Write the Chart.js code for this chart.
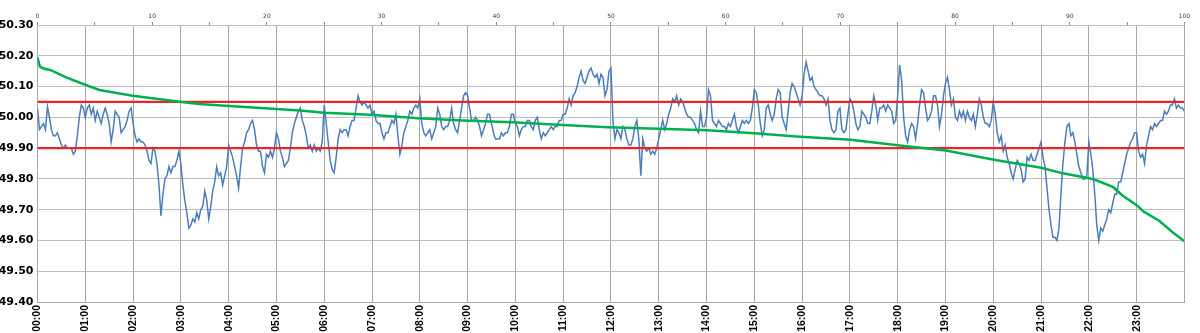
<!DOCTYPE html>
<html>
<head>
<meta charset="utf-8">
<script src="https://cdn.jsdelivr.net/npm/chart.js@4.4.0/dist/chart.umd.min.js"></script>
<style>
  html, body { margin: 0; padding: 0; background: #fff; }
  #wrap { width: 1200px; height: 333px; }
</style>
</head>
<body>
<div id="wrap"><canvas id="chart" width="1200" height="333"></canvas></div>
<script>
// Beschriftung der unteren Achse (Stunden)
const hourLabels = ['00:00','01:00','02:00','03:00','04:00','05:00','06:00','07:00','08:00','09:00','10:00','11:00',
                    '12:00','13:00','14:00','15:00','16:00','17:00','18:00','19:00','20:00','21:00','22:00','23:00'];
const stepMinutes = 2.5;

// Netzfrequenz in Hz, alle 2,5 Minuten (24 Werte pro Stunde)
const frequency = [
  50.03,49.96,49.97,49.98,49.96,50.035,50.00,49.96,49.94,49.94,49.95,49.93,49.91,49.90,49.91,49.90,49.90,49.90,49.88,49.89,49.94,50.00,50.04,50.03,
  50.00,50.03,50.04,50.01,50.03,49.99,50.02,50.00,49.98,50.01,50.03,50.01,49.98,49.92,49.96,50.02,50.01,50.00,49.95,49.96,49.97,49.99,50.02,50.03,
  49.98,49.94,49.92,49.93,49.92,49.92,49.91,49.89,49.86,49.85,49.90,49.89,49.85,49.78,49.68,49.75,49.80,49.81,49.84,49.82,49.84,49.84,49.86,49.89,
  49.85,49.78,49.73,49.69,49.64,49.65,49.67,49.66,49.69,49.67,49.70,49.71,49.76,49.73,49.67,49.71,49.76,49.79,49.84,49.81,49.82,49.78,49.81,49.84,
  49.91,49.89,49.87,49.84,49.81,49.77,49.84,49.90,49.92,49.95,49.96,49.98,49.99,49.96,49.91,49.89,49.89,49.84,49.82,49.88,49.87,49.89,49.87,49.90,
  49.95,49.93,49.89,49.87,49.84,49.85,49.86,49.90,49.95,49.98,50.00,50.02,50.03,49.99,49.97,49.94,49.90,49.91,49.89,49.91,49.89,49.90,49.89,49.92,
  50.04,49.98,49.92,49.86,49.83,49.82,49.87,49.93,49.96,49.95,49.96,49.96,49.94,49.97,49.99,49.99,50.03,50.07,50.05,50.04,50.05,50.04,50.03,50.04,
  50.01,50.02,49.99,49.98,49.98,49.95,49.93,49.95,49.95,49.97,49.99,49.98,50.01,49.94,49.88,49.91,49.95,49.97,49.99,50.02,50.01,50.03,50.04,50.03,
  50.06,49.98,49.95,49.94,49.95,49.96,49.93,49.95,49.97,50.03,50.01,49.97,49.96,49.97,49.97,49.99,50.03,49.98,49.96,49.95,49.99,50.03,50.07,50.08,
  50.07,50.03,49.99,49.99,50.00,49.99,49.97,49.94,49.96,49.98,50.01,50.01,49.98,49.95,49.93,49.93,49.93,49.95,49.94,49.95,49.95,49.97,50.01,50.01,
  49.98,49.97,49.94,49.96,49.97,49.97,49.99,49.99,49.97,49.96,49.99,50.00,49.96,49.93,49.95,49.94,49.95,49.96,49.97,49.96,49.97,49.97,49.99,49.99,
  50.01,50.01,50.03,50.06,50.04,50.07,50.08,50.10,50.13,50.15,50.12,50.11,50.13,50.15,50.16,50.14,50.13,50.14,50.11,50.14,50.13,50.07,50.09,50.15,
  50.16,49.99,49.93,49.96,49.95,49.93,49.97,49.96,49.93,49.91,49.91,49.93,49.97,49.99,49.93,49.81,49.93,49.90,49.89,49.90,49.88,49.89,49.88,49.90,
  49.93,49.96,49.99,49.96,49.98,50.01,50.03,50.06,50.05,50.07,50.04,50.06,50.05,50.03,50.01,50.00,50.00,49.99,49.98,49.96,49.95,50.02,49.97,49.97,
  50.00,50.09,50.07,49.99,49.98,49.97,49.99,49.98,49.97,49.97,49.96,49.98,49.97,49.99,50.01,49.97,49.95,49.97,49.99,49.98,49.99,49.98,49.99,50.03,
  50.09,50.08,50.04,49.98,49.94,49.96,50.03,50.04,50.01,49.99,50.01,50.06,50.09,50.08,50.00,49.98,49.96,50.02,50.08,50.11,50.10,50.08,50.06,50.04,
  50.07,50.14,50.18,50.15,50.12,50.13,50.10,50.09,50.08,50.07,50.07,50.06,50.04,50.06,49.99,49.96,49.95,49.96,50.02,50.03,49.96,49.95,49.96,50.01,
  50.06,50.05,50.02,49.98,49.96,49.97,50.02,50.01,50.00,49.98,49.98,50.02,50.07,50.04,49.99,50.03,50.03,50.04,50.02,50.04,50.03,50.02,49.98,49.99,
  50.07,50.17,50.12,50.00,49.94,49.92,49.96,49.98,49.97,49.93,49.98,50.04,50.09,50.08,50.03,49.99,50.00,50.02,50.07,50.07,50.04,49.97,50.01,50.07,
  50.11,50.13,50.09,50.04,50.06,50.00,49.99,50.02,50.00,50.02,49.99,50.02,50.00,49.99,50.01,49.97,50.01,50.06,50.04,50.00,49.98,49.98,49.97,49.99,
  50.05,50.01,49.95,49.92,49.94,49.89,49.91,49.87,49.85,49.82,49.80,49.83,49.86,49.85,49.83,49.79,49.80,49.87,49.86,49.88,49.86,49.86,49.88,49.90,
  49.92,49.87,49.84,49.77,49.70,49.65,49.61,49.61,49.60,49.64,49.75,49.85,49.92,49.97,49.98,49.94,49.95,49.92,49.88,49.84,49.82,49.80,49.80,49.81,
  49.92,49.88,49.83,49.75,49.65,49.60,49.64,49.63,49.65,49.67,49.70,49.69,49.72,49.75,49.75,49.79,49.79,49.82,49.85,49.88,49.90,49.92,49.93,49.95,
  49.95,49.89,49.87,49.88,49.85,49.91,49.94,49.97,49.96,49.98,49.97,49.98,49.99,49.99,50.02,50.01,50.02,50.04,50.04,50.06,50.03,50.04,50.03,50.03,
  50.02
];

// Dauerlinie: Anteil der Zeit in % (obere Achse) und Frequenz
const durationPct = [0, 0.2, 0.6, 1.1, 2.5, 4.2, 5.4, 8.3, 12.4, 14.1, 16.7, 22.9, 25.0, 29.0, 33.2, 37.1, 41.4, 45.8, 49.7,
                     54.2, 58.4, 62.5, 66.2, 70.9, 75.0, 79.2, 82.6, 83.4, 87.5, 89.4, 91.7, 92.2, 93.8, 94.6, 95.9, 96.4, 97.8, 99.0, 100];
const durationVal = [50.195, 50.165, 50.158, 50.154, 50.13, 50.105, 50.089, 50.07, 50.051, 50.043, 50.037, 50.022, 50.015, 50.008, 49.997, 49.99, 49.984, 49.975, 49.968,
                     49.963, 49.958, 49.948, 49.938, 49.927, 49.909, 49.892, 49.868, 49.862, 49.836, 49.818, 49.802, 49.797, 49.773, 49.746, 49.713, 49.695, 49.664, 49.626, 49.597];

// Grenzwerte
const upperLimit = 50.05;
const lowerLimit = 49.90;

const bluePoints = frequency.map((v, i) => ({ x: i * stepMinutes, y: v }));
const greenPoints = durationPct.map((p, i) => ({ x: p, y: durationVal[i] }));
const dayEnd = hourLabels.length * 60;

Chart.defaults.font.family = 'DejaVu Sans';
Chart.defaults.color = '#000';

const ctx = document.getElementById('chart').getContext('2d');
new Chart(ctx, {
  type: 'line',
  data: {
    datasets: [
      { data: greenPoints, xAxisID: 'x2', borderColor: '#00b050', borderWidth: 2.5, pointRadius: 0, order: 0 },
      { data: [{ x: 0, y: upperLimit }, { x: dayEnd, y: upperLimit }], xAxisID: 'x', borderColor: '#e8262a', borderWidth: 2.2, pointRadius: 0, order: 1 },
      { data: [{ x: 0, y: lowerLimit }, { x: dayEnd, y: lowerLimit }], xAxisID: 'x', borderColor: '#e8262a', borderWidth: 2.2, pointRadius: 0, order: 1 },
      { data: bluePoints, xAxisID: 'x', borderColor: '#4a7ebb', borderWidth: 1.5, pointRadius: 0, order: 2 }
    ]
  },
  options: {
    responsive: false,
    animation: false,
    devicePixelRatio: 1,
    layout: { padding: { left: 0, right: 9.5, top: 0, bottom: 0 } },
    plugins: { legend: { display: false }, tooltip: { enabled: false } },
    scales: {
      x: {
        type: 'linear', position: 'bottom', min: 0, max: dayEnd,
        grid: { color: '#a8a8a8', drawTicks: false },
        border: { color: '#a8a8a8' },
        ticks: {
          stepSize: 60, autoSkip: false, minRotation: 90, maxRotation: 90, padding: 3,
          font: { family: 'Liberation Sans', size: 10.5, weight: 'bold' },
          callback: v => hourLabels[v / 60] || ''
        },
        afterFit: s => { s.height = 31; }
      },
      x2: {
        type: 'linear', position: 'top', min: 0, max: 100,
        grid: { drawOnChartArea: false, color: '#8c8c8c', tickLength: 3 },
        border: { display: false },
        ticks: {
          stepSize: 5, autoSkip: false, maxRotation: 0, padding: 2, color: '#404040',
          font: { size: 6 },
          callback: v => (v % 10 === 0 ? v : '')
        },
        afterFit: s => { s.height = 25; }
      },
      y: {
        min: 49.4, max: 50.3,
        grid: { color: '#bdbdbd', drawTicks: false },
        border: { color: '#a8a8a8' },
        ticks: {
          stepSize: 0.05, padding: 4,
          font: { size: 11, weight: 'bold' },
          callback: v => v.toFixed(2)
        },
        afterFit: s => { s.width = 37.5; }
      }
    }
  }
});
</script>
</body>
</html>
